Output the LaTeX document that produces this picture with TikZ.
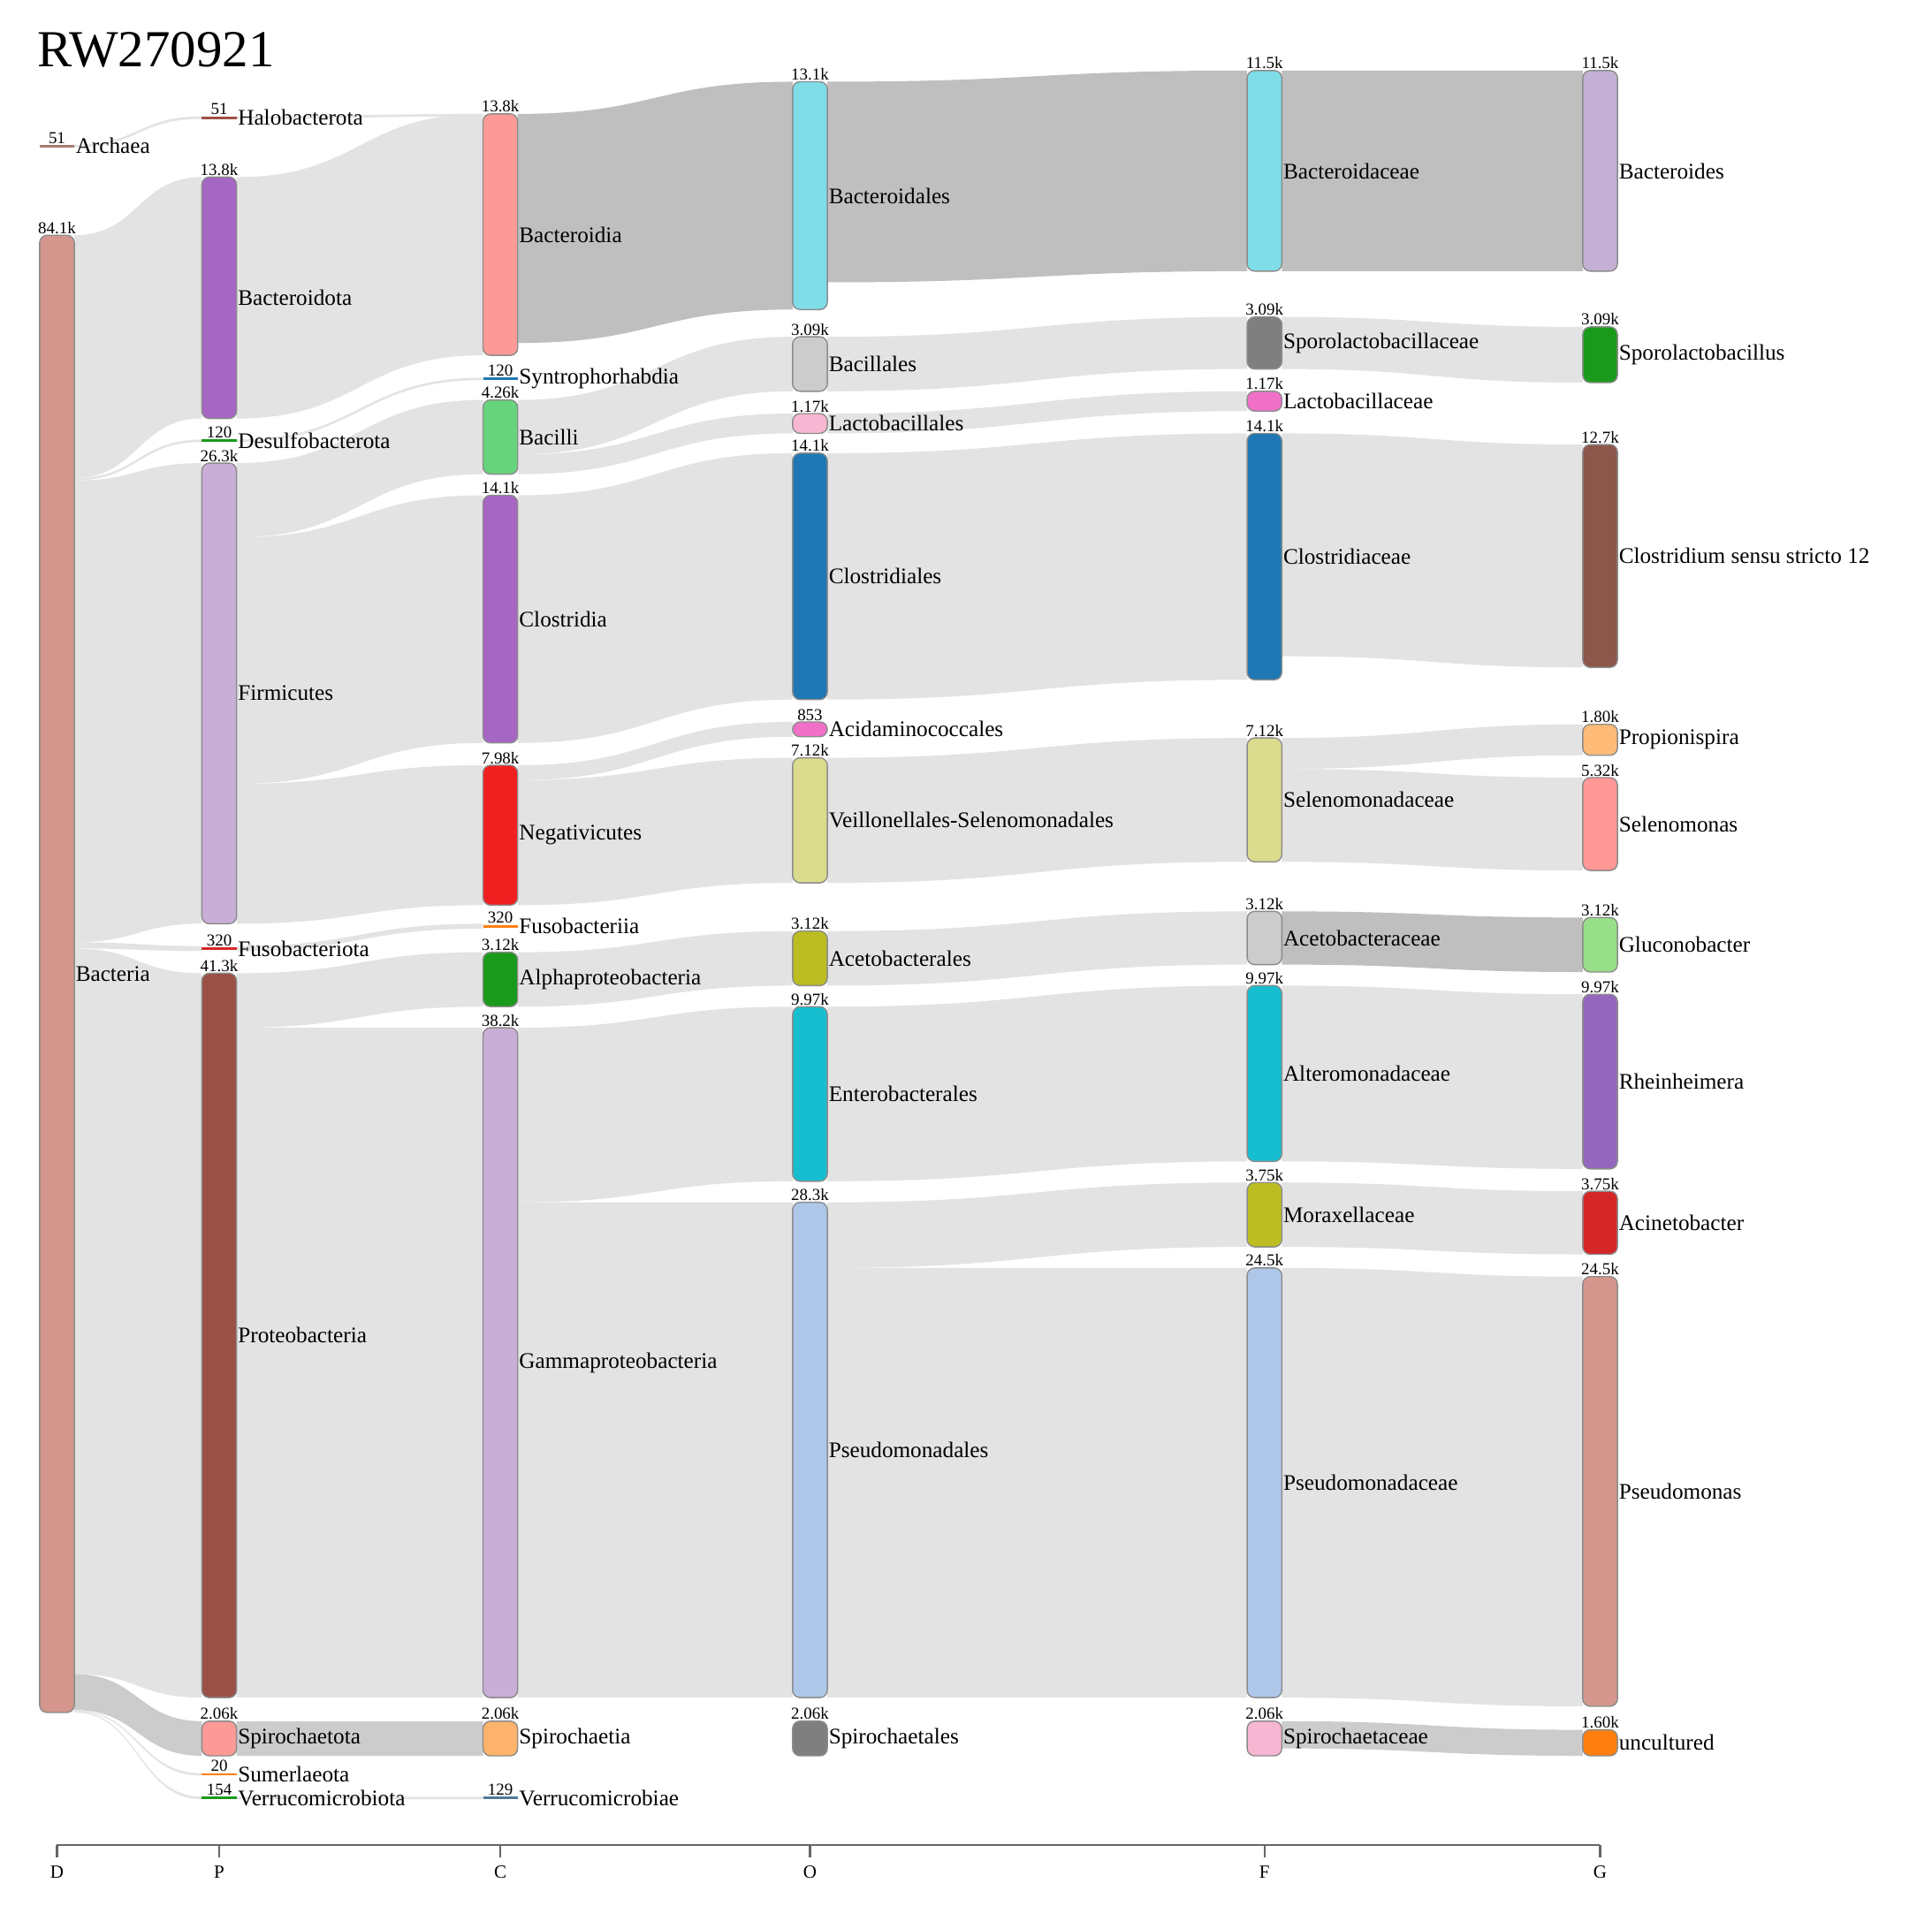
\documentclass[tikz,border=0pt]{standalone}
\usepackage{fontspec}
\setmainfont{Liberation Serif}
\definecolor{cRose}{HTML}{D4968D}
\definecolor{cPur}{HTML}{A566C4}
\definecolor{cLav}{HTML}{C9AED8}
\definecolor{cBrown}{HTML}{9B5045}
\definecolor{cSalm}{HTML}{FB9A96}
\definecolor{cLGreen}{HTML}{66D47A}
\definecolor{cRed}{HTML}{F02020}
\definecolor{cGreen}{HTML}{1A9A1A}
\definecolor{cLOr}{HTML}{FDB36B}
\definecolor{cCyanL}{HTML}{7FDDE8}
\definecolor{cLGray}{HTML}{CCCCCC}
\definecolor{cMag}{HTML}{F7A0D8}
\definecolor{cBlue}{HTML}{1F77B4}
\definecolor{cKhaki}{HTML}{DBDB8D}
\definecolor{cOlive}{HTML}{BCBD22}
\definecolor{cTeal}{HTML}{17BECF}
\definecolor{cLBlue}{HTML}{AEC7E8}
\definecolor{cGray}{HTML}{7F7F7F}
\definecolor{cPinkL}{HTML}{F7B6D2}
\definecolor{cPinkM}{HTML}{F070C8}
\definecolor{cDBrown}{HTML}{8C564B}
\definecolor{cOrL}{HTML}{FFBB78}
\definecolor{cSel}{HTML}{FF9896}
\definecolor{cGlu}{HTML}{98DF8A}
\definecolor{cRh}{HTML}{9467BD}
\definecolor{cAc}{HTML}{D62728}
\definecolor{cOr}{HTML}{FF7F0E}
\definecolor{cBd}{HTML}{C5B0D5}
\tikzset{
  lab/.style={anchor=west,font=\fontsize{18}{19}\selectfont,inner sep=1pt},
  val/.style={anchor=south,font=\fontsize{13.5}{14}\selectfont,inner sep=1pt},
  barst/.style={rounded corners=6pt,draw=black!45,line width=1pt},
}
\newcommand\sbar[6]{%
  \filldraw[barst,fill=#4] ({#1-14},#2) rectangle ({#1+14},#3);
  \node[lab] at ({#1+14},{(#2+#3)/2}) {#5};
  \node[val] at (#1,#2) {#6};}
\newcommand\sline[5]{%
  \draw[#3,line width=2pt] ({#1-14},#2) -- ({#1+14},#2);
  \node[lab] at ({#1+14},#2) {#4};
  \node[val] at (#1,{#2-1}) {#5};}
\newcommand\lk[7][black!11]{%
  \fill[#1] ({#2+14},#3) .. controls ({(#2+#5)/2},#3) and ({(#2+#5)/2},#6) .. ({#5-14},#6)
   -- ({#5-14},#7) .. controls ({(#2+#5)/2},#7) and ({(#2+#5)/2},#4) .. ({#2+14},#4) -- cycle;}
\begin{document}
\begin{tikzpicture}[x=1pt,y=-1pt]
\useasboundingbox (0,0) rectangle (1560,1539);
\node[anchor=west,font=\fontsize{42}{42}\selectfont,inner sep=0] at (30,40) {RW270921};
% links D->P
\lk{46}{117}{119}{177}{94}{96}
\lk{46}{190}{386}{177}{143}{338}
\lk{46}{386}{388}{177}{355}{357}
\lk{46}{388}{761}{177}{374}{746}
\lk{46}{761}{766}{177}{764}{768}
\lk{46}{766}{1352}{177}{786}{1371}
\lk[black!20]{46}{1352}{1381}{177}{1390}{1418}
\lk{46}{1381}{1382}{177}{1432}{1434}
\lk{46}{1382}{1383}{177}{1451}{1453}
% P->C
\lk{177}{94}{96}{404}{92}{94}
\lk{177}{143}{338}{404}{92}{287}
\lk{177}{355}{357}{404}{305}{307}
\lk{177}{374}{434}{404}{323}{383}
\lk{177}{434}{633}{404}{400}{600}
\lk{177}{633}{746}{404}{618}{731}
\lk{177}{764}{768}{404}{746}{750}
\lk{177}{786}{830}{404}{769}{813}
\lk{177}{830}{1371}{404}{830}{1371}
\lk[black!20]{177}{1390}{1418}{404}{1390}{1418}
\lk{177}{1451}{1453}{404}{1451}{1453}
% C->O
\lk[black!25]{404}{92}{277}{654}{66}{250}
\lk{404}{323}{367}{654}{272}{316}
\lk{404}{367}{383}{654}{334}{350}
\lk{404}{400}{600}{654}{366}{565}
\lk{404}{618}{630}{654}{583}{595}
\lk{404}{630}{731}{654}{612}{713}
\lk{404}{769}{813}{654}{752}{796}
\lk{404}{830}{971}{654}{813}{954}
\lk{404}{971}{1371}{654}{971}{1371}
% O->F
\lk[black!25]{654}{66}{228}{1021}{57}{219}
\lk{654}{272}{316}{1021}{256}{298}
\lk{654}{334}{350}{1021}{316}{332}
\lk{654}{366}{565}{1021}{350}{549}
\lk{654}{612}{713}{1021}{596}{696}
\lk{654}{752}{796}{1021}{736}{779}
\lk{654}{813}{954}{1021}{796}{938}
\lk{654}{971}{1024}{1021}{955}{1007}
\lk{654}{1024}{1371}{1021}{1024}{1371}
% F->G
\lk[black!25]{1021}{57}{219}{1292}{57}{219}
\lk{1021}{256}{298}{1292}{264}{309}
\lk{1021}{350}{530}{1292}{359}{539}
\lk{1021}{596}{621}{1292}{585}{610}
\lk{1021}{621}{696}{1292}{628}{703}
\lk[black!25]{1021}{736}{779}{1292}{741}{785}
\lk{1021}{796}{938}{1292}{803}{944}
\lk{1021}{955}{1007}{1292}{962}{1013}
\lk{1021}{1024}{1371}{1292}{1031}{1378}
\lk[black!20]{1021}{1390}{1412}{1292}{1397}{1418}
% D
\sline{46}{118}{cRose!80!black}{Archaea}{51}
\sbar{46}{190}{1383}{cRose}{Bacteria}{84.1k}
% P
\sline{177}{95}{cBrown}{Halobacterota}{51}
\sbar{177}{143}{338}{cPur}{Bacteroidota}{13.8k}
\sline{177}{356}{cGreen}{Desulfobacterota}{120}
\sbar{177}{374}{746}{cLav}{Firmicutes}{26.3k}
\sline{177}{766}{cAc}{Fusobacteriota}{320}
\sbar{177}{786}{1371}{cBrown}{Proteobacteria}{41.3k}
\sbar{177}{1390}{1418}{cSalm}{Spirochaetota}{2.06k}
\sline{177}{1433}{cOr}{Sumerlaeota}{20}
\sline{177}{1452}{cGreen}{Verrucomicrobiota}{154}
% C
\sbar{404}{92}{287}{cSalm}{Bacteroidia}{13.8k}
\sline{404}{306}{cBlue}{Syntrophorhabdia}{120}
\sbar{404}{323}{383}{cLGreen}{Bacilli}{4.26k}
\sbar{404}{400}{600}{cPur}{Clostridia}{14.1k}
\sbar{404}{618}{731}{cRed}{Negativicutes}{7.98k}
\sline{404}{748}{cOr}{Fusobacteriia}{320}
\sbar{404}{769}{813}{cGreen}{Alphaproteobacteria}{3.12k}
\sbar{404}{830}{1371}{cLav}{Gammaproteobacteria}{38.2k}
\sbar{404}{1390}{1418}{cLOr}{Spirochaetia}{2.06k}
\sline{404}{1452}{cBlue!50!gray}{Verrucomicrobiae}{129}
% O
\sbar{654}{66}{250}{cCyanL}{Bacteroidales}{13.1k}
\sbar{654}{272}{316}{cLGray}{Bacillales}{3.09k}
\sbar{654}{334}{350}{cPinkL}{Lactobacillales}{1.17k}
\sbar{654}{366}{565}{cBlue}{Clostridiales}{14.1k}
\sbar{654}{583}{595}{cPinkM}{Acidaminococcales}{853}
\sbar{654}{612}{713}{cKhaki}{Veillonellales-Selenomonadales}{7.12k}
\sbar{654}{752}{796}{cOlive}{Acetobacterales}{3.12k}
\sbar{654}{813}{954}{cTeal}{Enterobacterales}{9.97k}
\sbar{654}{971}{1371}{cLBlue}{Pseudomonadales}{28.3k}
\sbar{654}{1390}{1418}{cGray}{Spirochaetales}{2.06k}
% F
\sbar{1021}{57}{219}{cCyanL}{Bacteroidaceae}{11.5k}
\sbar{1021}{256}{298}{cGray}{Sporolactobacillaceae}{3.09k}
\sbar{1021}{316}{332}{cPinkM}{Lactobacillaceae}{1.17k}
\sbar{1021}{350}{549}{cBlue}{Clostridiaceae}{14.1k}
\sbar{1021}{596}{696}{cKhaki}{Selenomonadaceae}{7.12k}
\sbar{1021}{736}{779}{cLGray}{Acetobacteraceae}{3.12k}
\sbar{1021}{796}{938}{cTeal}{Alteromonadaceae}{9.97k}
\sbar{1021}{955}{1007}{cOlive}{Moraxellaceae}{3.75k}
\sbar{1021}{1024}{1371}{cLBlue}{Pseudomonadaceae}{24.5k}
\sbar{1021}{1390}{1418}{cPinkL}{Spirochaetaceae}{2.06k}
% G
\sbar{1292}{57}{219}{cBd}{Bacteroides}{11.5k}
\sbar{1292}{264}{309}{cGreen}{Sporolactobacillus}{3.09k}
\sbar{1292}{359}{539}{cDBrown}{Clostridium sensu stricto 12}{12.7k}
\sbar{1292}{585}{610}{cOrL}{Propionispira}{1.80k}
\sbar{1292}{628}{703}{cSel}{Selenomonas}{5.32k}
\sbar{1292}{741}{785}{cGlu}{Gluconobacter}{3.12k}
\sbar{1292}{803}{944}{cRh}{Rheinheimera}{9.97k}
\sbar{1292}{962}{1013}{cAc}{Acinetobacter}{3.75k}
\sbar{1292}{1031}{1378}{cRose}{Pseudomonas}{24.5k}
\sbar{1292}{1397}{1418}{cOr}{uncultured}{1.60k}
% axis
\draw[black!60,line width=1.5pt] (46,1490) -- (1292,1490);
\foreach \x/\t in {46/D,177/P,404/C,654/O,1021/F,1292/G}{
  \draw[black!60,line width=1.5pt] (\x,1490) -- (\x,1500);
  \node[font=\fontsize{15}{15}\selectfont] at (\x,1512) {\t};}
\end{tikzpicture}
\end{document}
